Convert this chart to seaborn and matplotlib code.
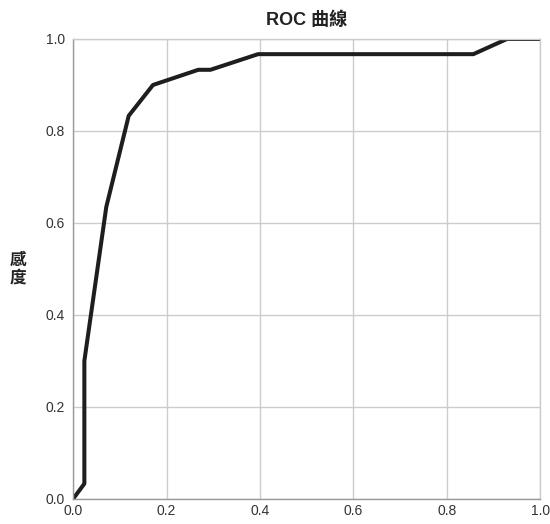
import matplotlib
matplotlib.use("Agg")
import matplotlib.pyplot as plt
import seaborn as sns
import pandas as pd

fpr = [0.0, 0.024, 0.024, 0.071, 0.119, 0.171, 0.268, 0.294, 0.396, 0.857, 0.929, 1.0]
tpr = [0.0, 0.033, 0.300, 0.635, 0.833, 0.900, 0.933, 0.933, 0.967, 0.967, 1.0, 1.0]
ticks = [0.0, 0.2, 0.4, 0.6, 0.8, 1.0]
tick_labels = ["0.0", "0.2", "0.4", "0.6", "0.8", "1.0"]

sns.set_theme(style="whitegrid")
plt.rcParams['font.family'] = ['Liberation Sans', 'Noto Sans CJK TC', 'DejaVu Sans']

df = pd.DataFrame({"fpr": fpr, "tpr": tpr})

fig = plt.figure(figsize=(5.5, 5.24), dpi=100)
ax = fig.add_axes([0.133, 0.048, 0.849, 0.8776])
sns.lineplot(data=df, x="fpr", y="tpr", sort=False, estimator=None,
             color="#1e1e1e", linewidth=2.9, ax=ax)
ax.set_xlim(0, 1)
ax.set_ylim(0, 1)
ax.set_xticks(ticks)
ax.set_xticklabels(tick_labels)
ax.set_yticks(ticks)
ax.set_yticklabels(tick_labels)
ax.grid(True, color="#cccccc", linewidth=1.0)
for s in ax.spines.values():
    s.set_color("#cccccc")
    s.set_linewidth(1.0)
ax.spines["left"].set_color("#999999")
ax.spines["bottom"].set_color("#999999")
ax.tick_params(axis="y", length=0, labelsize=10, colors="#333333", pad=6)
ax.tick_params(axis="x", length=0, labelsize=10, colors="#333333", pad=4)
ax.set_xlabel("")
ax.set_ylabel("感\n度", rotation=0, fontsize=12, fontweight="bold",
              color="#222222", labelpad=20, va="center", linespacing=1.1)
ax.set_title("ROC 曲線", fontsize=13, fontweight="bold", color="#222222", pad=10)
fig.savefig("out.png", dpi=100)
